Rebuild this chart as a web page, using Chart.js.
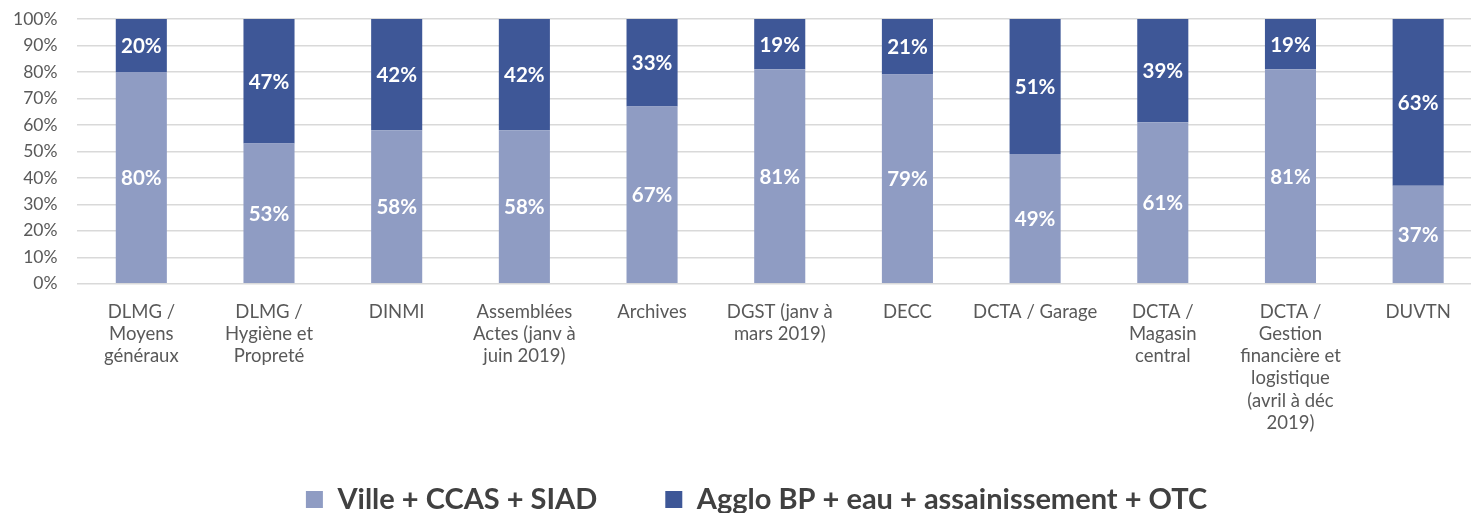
<!DOCTYPE html>
<html lang="fr">
<head>
    <meta charset="UTF-8">
    <title>Répartition Ville / Agglo</title>
    <script src="https://cdn.jsdelivr.net/npm/chart.js"></script>
    <style>
        body { margin: 0; overflow: hidden; background: #fff; }
        #wrap { width: 1482px; height: 513px; }
    </style>
</head>
<body>
    <div id="wrap"><canvas id="repartChart"></canvas></div>
    <script>
        const categories = [
            ['DLMG /', 'Moyens', 'généraux'],
            ['DLMG /', 'Hygiène et', 'Propreté'],
            'DINMI',
            ['Assemblées', 'Actes (janv à', 'juin 2019)'],
            'Archives',
            ['DGST (janv à', 'mars 2019)'],
            'DECC',
            'DCTA / Garage',
            ['DCTA /', 'Magasin', 'central'],
            ['DCTA /', 'Gestion', 'financière et', 'logistique', '(avril à déc', '2019)'],
            'DUVTN'
        ];
        const villeValues = [80, 53, 58, 58, 67, 81, 79, 49, 61, 81, 37];
        const aggloValues = [20, 47, 42, 42, 33, 19, 21, 51, 39, 19, 63];
        const seriesNames = ['Ville + CCAS + SIAD', 'Agglo BP + eau + assainissement + OTC'];

        const font = 'Lato, "Open Sans", sans-serif';

        // white percentage labels in the middle of each segment
        const segmentLabels = {
            id: 'segmentLabels',
            afterDatasetsDraw(chart) {
                const c = chart.ctx;
                c.save();
                c.fillStyle = '#ffffff';
                c.font = 'bold 20.5px ' + font;
                c.textAlign = 'center';
                c.textBaseline = 'middle';
                chart.data.datasets.forEach((ds, i) => {
                    chart.getDatasetMeta(i).data.forEach((bar, j) => {
                        c.fillText(ds.data[j] + '%', bar.x, (bar.y + bar.base) / 2 + 1);
                    });
                });
                c.restore();
            }
        };

        // the original chart was wider than the crop, its legend sits a bit right of centre
        const legendShift = {
            id: 'legendShift',
            afterLayout(chart) {
                chart.legend.left += 19;
                chart.legend.right += 19;
            }
        };

        const ctx = document.getElementById('repartChart').getContext('2d');
        new Chart(ctx, {
            type: 'bar',
            data: {
                labels: categories,
                datasets: [{
                    label: seriesNames[0],
                    data: villeValues,
                    backgroundColor: '#8f9cc3'
                }, {
                    label: seriesNames[1],
                    data: aggloValues,
                    backgroundColor: '#3e5797'
                }]
            },
            options: {
                responsive: true,
                maintainAspectRatio: false,
                animation: false,
                layout: { padding: { top: 0, left: -7, right: 0, bottom: -11 } },
                datasets: {
                    bar: { barPercentage: 0.4, categoryPercentage: 1 }
                },
                scales: {
                    x: {
                        stacked: true,
                        grid: { display: false },
                        border: { display: false },
                        // let the long labels run into the legend's top padding
                        afterFit: s => {
                            s.height -= 26;
                            s._computeLabelArea = () => null;
                        },
                        ticks: {
                            color: '#595959',
                            font: { family: font, size: 18.5, lineHeight: 1.2 },
                            padding: 9,
                            maxRotation: 0,
                            autoSkip: false
                        }
                    },
                    y: {
                        stacked: true,
                        min: 0,
                        max: 100,
                        border: { display: false },
                        grid: { color: '#d9d9d9', lineWidth: 1.5, drawTicks: false },
                        afterFit: s => { s.paddingTop = 19; },
                        ticks: {
                            stepSize: 10,
                            autoSkip: false,
                            color: '#595959',
                            font: { family: font, size: 17.5 },
                            padding: 20,
                            callback: v => v + '%'
                        }
                    }
                },
                plugins: {
                    tooltip: { enabled: false },
                    legend: {
                        position: 'bottom',
                        labels: {
                            color: '#404040',
                            font: { family: font, size: 29, weight: 'bold' },
                            boxWidth: 17,
                            boxHeight: 17,
                            padding: 68
                        }
                    }
                }
            },
            plugins: [segmentLabels, legendShift]
        });
    </script>
</body>
</html>
